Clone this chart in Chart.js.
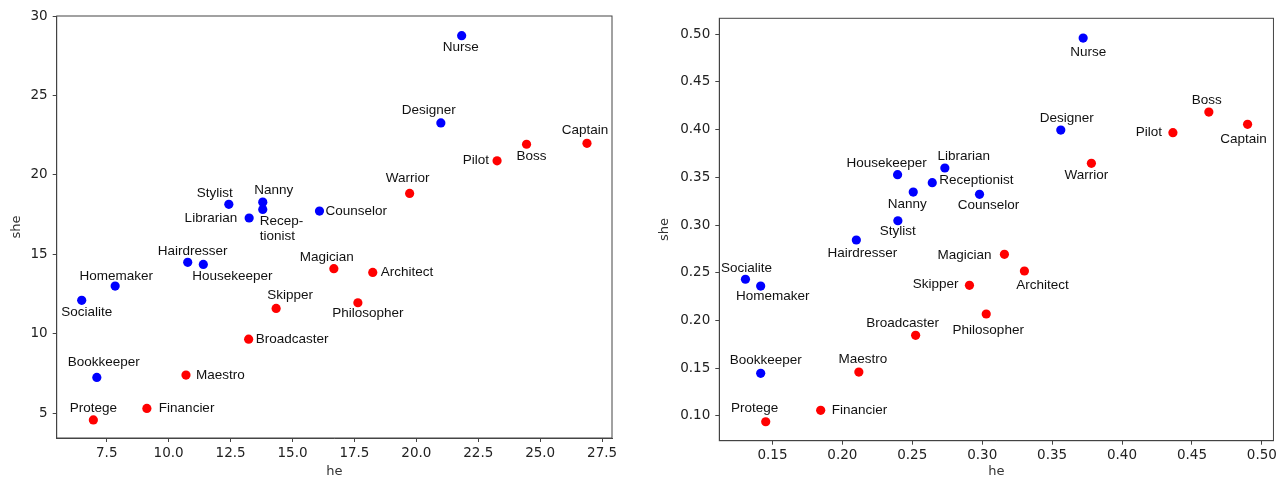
<!DOCTYPE html>
<html>
<head>
<meta charset="utf-8">
<script src="https://cdn.jsdelivr.net/npm/chart.js@4"></script>
<style>
  body { margin: 0; background: #fff; }
  canvas { position: absolute; top: 0; }
</style>
</head>
<body>
<canvas id="leftChart" width="640" height="479" style="left:0px"></canvas>
<canvas id="rightChart" width="640" height="479" style="left:640px"></canvas>
<script>
// occupations, group 'f' = blue dots, 'm' = red dots
var words = ['Nurse', 'Designer', 'Stylist', 'Nanny', 'Receptionist', 'Librarian', 'Counselor', 'Hairdresser',
  'Housekeeper', 'Homemaker', 'Socialite', 'Bookkeeper',
  'Boss', 'Captain', 'Pilot', 'Warrior', 'Magician', 'Architect', 'Philosopher', 'Skipper',
  'Broadcaster', 'Maestro', 'Financier', 'Protege'];
var groups = ['f', 'f', 'f', 'f', 'f', 'f', 'f', 'f', 'f', 'f', 'f', 'f',
  'm', 'm', 'm', 'm', 'm', 'm', 'm', 'm', 'm', 'm', 'm', 'm'];

var leftHe = [21.83, 20.99, 12.43, 13.80, 13.80, 13.25, 16.09, 10.77, 11.40, 7.84, 6.49, 7.10,
  24.45, 26.89, 23.26, 19.73, 16.67, 18.24, 17.64, 14.34, 13.23, 10.70, 9.12, 6.96];
var leftShe = [28.76, 23.27, 18.15, 18.29, 17.83, 17.29, 17.73, 14.50, 14.37, 13.01, 12.11, 7.26,
  21.93, 21.99, 20.89, 18.84, 14.10, 13.87, 11.96, 11.60, 9.67, 7.41, 5.31, 4.59];

var rightHe = [0.3722, 0.3562, 0.2397, 0.2507, 0.2643, 0.2733, 0.2981, 0.2100, 0.2395, 0.1416, 0.1307, 0.1416,
  0.4621, 0.4898, 0.4364, 0.3781, 0.3159, 0.3302, 0.3029, 0.2909, 0.2524, 0.2118, 0.1845, 0.1452];
var rightShe = [0.4961, 0.3996, 0.3045, 0.3346, 0.3444, 0.3598, 0.3322, 0.2843, 0.3528, 0.2360, 0.2431, 0.1445,
  0.4185, 0.4056, 0.3968, 0.3647, 0.2693, 0.2518, 0.2067, 0.2368, 0.1843, 0.1458, 0.1057, 0.0937];

var leftXTicks = [7.5, 10, 12.5, 15, 17.5, 20, 22.5, 25, 27.5];
var leftYTicks = [5, 10, 15, 20, 25, 30];
var rightXTicks = [0.15, 0.20, 0.25, 0.30, 0.35, 0.40, 0.45, 0.50];
var rightYTicks = [0.10, 0.15, 0.20, 0.25, 0.30, 0.35, 0.40, 0.45, 0.50];

// label offsets from the dot: [dx, dy, align]
var leftPlace = {
  Nurse: [-1, 12, 'center'], Designer: [-12, -13, 'center'], Stylist: [-14, -11, 'center'],
  Nanny: [11, -12, 'center'], Receptionist: [-3, 12, 'left', ['Recep-', 'tionist']],
  Librarian: [-12, 0, 'right'], Counselor: [6, 0, 'left'], Hairdresser: [5, -11, 'center'],
  Housekeeper: [29, 12, 'center'], Homemaker: [1, -10, 'center'], Socialite: [5, 12, 'center'],
  Bookkeeper: [7, -15, 'center'], Boss: [5, 12, 'center'], Captain: [-2, -13, 'center'],
  Pilot: [-8, -1, 'right'], Warrior: [-2, -15, 'center'], Magician: [-7, -11, 'center'],
  Architect: [8, 0, 'left'], Philosopher: [10, 11, 'center'], Skipper: [14, -13, 'center'],
  Broadcaster: [7, 0, 'left'], Maestro: [10, 0, 'left'], Financier: [12, 0, 'left'],
  Protege: [0, -12, 'center']
};
var rightPlace = {
  Nurse: [5, 14, 'center'], Designer: [6, -12, 'center'], Stylist: [0, 11, 'center'],
  Nanny: [-6, 12, 'center'], Receptionist: [7, -2, 'left'], Librarian: [19, -12, 'center'],
  Counselor: [9, 11, 'center'], Hairdresser: [6, 13, 'center'], Housekeeper: [-11, -11, 'center'],
  Homemaker: [12, 10, 'center'], Socialite: [1, -11, 'center'], Bookkeeper: [5, -13, 'center'],
  Boss: [-2, -12, 'center'], Captain: [-4, 15, 'center'], Pilot: [-11, 0, 'right'],
  Warrior: [-5, 12, 'center'], Magician: [-13, 1, 'right'], Architect: [18, 14, 'center'],
  Philosopher: [2, 16, 'center'], Skipper: [-11, -1, 'right'], Broadcaster: [-13, -12, 'center'],
  Maestro: [4, -13, 'center'], Financier: [11, 0, 'left'], Protege: [-11, -13, 'center']
};

var tickFont = { family: '"DejaVu Sans", sans-serif', size: 13.5 };
var axisColor = '#444';

var frameAndLabels = {
  id: 'frameAndLabels',
  afterDatasetsDraw: function (chart) {
    var ctx = chart.ctx;
    var a = chart.chartArea;
    var place = chart.options.plugins.frameAndLabels.place;
    ctx.save();
    ctx.strokeStyle = axisColor;
    ctx.lineWidth = 1;
    ctx.strokeRect(a.left, a.top, a.right - a.left, a.bottom - a.top);
    ctx.fillStyle = '#111';
    ctx.font = '13.5px "Liberation Sans", Arial, sans-serif';
    ctx.textBaseline = 'middle';
    chart.data.datasets.forEach(function (ds, di) {
      var meta = chart.getDatasetMeta(di);
      ds.data.forEach(function (p, i) {
        var el = meta.data[i];
        var pl = place[p.word];
        ctx.textAlign = pl[2];
        var lines = pl[3] || [p.word];
        lines.forEach(function (t, k) {
          ctx.fillText(t, el.x + pl[0], el.y + pl[1] + k * 15);
        });
      });
    });
    ctx.restore();
  }
};

function buildData(he, she) {
  var blue = [], red = [];
  for (var i = 0; i < words.length; i++) {
    var pt = { x: he[i], y: she[i], word: words[i] };
    if (groups[i] === 'f') blue.push(pt); else red.push(pt);
  }
  return {
    datasets: [
      { data: blue, backgroundColor: '#0000ff', borderWidth: 0, pointRadius: 4.6 },
      { data: red, backgroundColor: '#ff0000', borderWidth: 0, pointRadius: 4.6 }
    ]
  };
}

function axis(ticks, min, max, decimals, title, titlePad, fixedSize, horizontal) {
  return {
    type: 'linear',
    min: min,
    max: max,
    afterBuildTicks: function (scale) {
      scale.ticks = ticks.map(function (v) { return { value: v }; });
    },
    afterFit: function (scale) {
      if (horizontal) scale.height = fixedSize; else scale.width = fixedSize;
    },
    ticks: {
      font: tickFont,
      color: '#222',
      padding: horizontal ? 3 : 5,
      maxRotation: 0,
      autoSkip: false,
      callback: function (v) { return decimals ? Number(v).toFixed(decimals) : String(v); }
    },
    grid: { display: true, drawOnChartArea: false, drawTicks: true, tickLength: 4, color: axisColor },
    border: { display: true, color: axisColor, width: 1 },
    title: {
      display: true, text: title, color: '#333',
      font: { family: '"DejaVu Sans", sans-serif', size: 13 },
      padding: horizontal ? { top: 0, bottom: 0 } : { top: titlePad, bottom: 0 }
    }
  };
}

function initChart(id, he, she, xTicks, yTicks, xr, yr, decimals, place, box) {
  new Chart(document.getElementById(id), {
    type: 'scatter',
    data: buildData(he, she),
    options: {
      responsive: false,
      animation: false,
      layout: { padding: { top: box.top, right: box.right, left: 0, bottom: 0 } },
      scales: {
        x: axis(xTicks, xr[0], xr[1], decimals[0], 'he', 0, box.xh, true),
        y: axis(yTicks, yr[0], yr[1], decimals[1], 'she', box.titlePad, box.yw, false)
      },
      plugins: {
        legend: { display: false },
        tooltip: { enabled: false },
        frameAndLabels: { place: place }
      }
    },
    plugins: [frameAndLabels]
  });
}

initChart('leftChart', leftHe, leftShe, leftXTicks, leftYTicks, [5.48, 27.9], [3.45, 30.0], [1, 0], leftPlace,
  { top: 16, right: 28, xh: 41, yw: 56.7, titlePad: 9 });
initChart('rightChart', rightHe, rightShe, rightXTicks, rightYTicks, [0.112, 0.5083], [0.0738, 0.5168], [2, 2], rightPlace,
  { top: 18.3, right: 5.7, xh: 38.3, yw: 79.3, titlePad: 17 });
</script>
</body>
</html>
